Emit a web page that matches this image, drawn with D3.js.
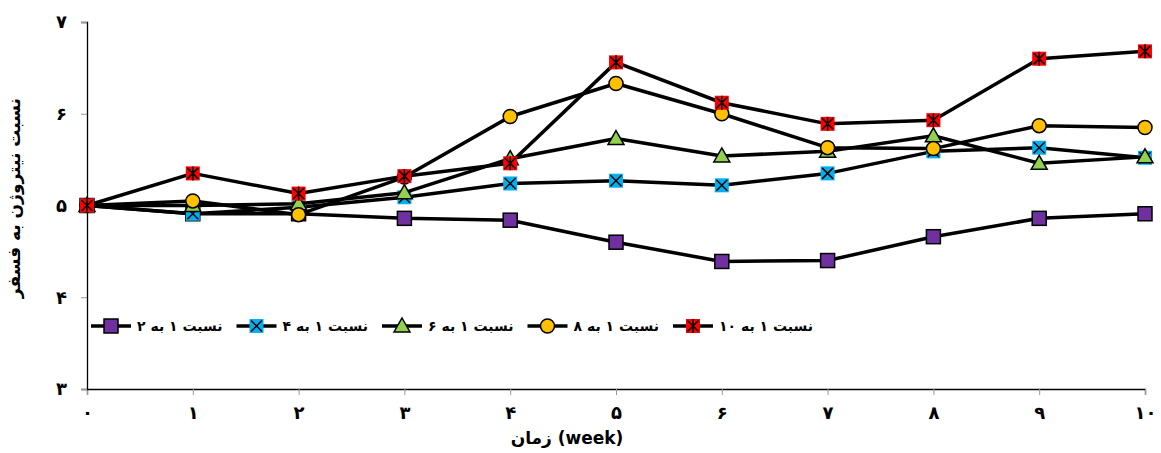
<!DOCTYPE html>
<html>
<head>
<meta charset="utf-8">
<script src="https://cdn.jsdelivr.net/npm/d3@7"></script>
<style>
body { margin: 0; background: #fff; }
text { font-family: "DejaVu Sans", sans-serif; font-weight: bold; }
</style>
</head>
<body>
<div id="chart"></div>
<script>
// weeks 0..10
var weeks = [0, 1, 2, 3, 4, 5, 6, 7, 8, 9, 10];
var faDigits = ["۰", "۱", "۲", "۳", "۴", "۵", "۶", "۷", "۸", "۹", "۱۰"];
var yTicks = [3, 4, 5, 6, 7];

var seriesNames = ["نسبت ۱ به ۲", "نسبت ۱ به ۴", "نسبت ۱ به ۶", "نسبت ۱ به ۸", "نسبت ۱ به ۱۰"];
var ratio2  = [5.00, 4.91, 4.91, 4.86, 4.84, 4.60, 4.39, 4.40, 4.66, 4.86, 4.91];
var ratio4  = [5.00, 4.91, 4.98, 5.09, 5.24, 5.27, 5.22, 5.35, 5.59, 5.63, 5.52];
var ratio6  = [5.00, 5.00, 5.02, 5.14, 5.51, 5.73, 5.54, 5.59, 5.76, 5.46, 5.53];
var ratio8  = [5.00, 5.05, 4.90, 5.31, 5.97, 6.33, 6.00, 5.63, 5.62, 5.87, 5.85];
var ratio10 = [5.00, 5.35, 5.13, 5.32, 5.46, 6.56, 6.12, 5.89, 5.93, 6.60, 6.68];

var allSeries = [ratio2, ratio4, ratio6, ratio8, ratio10];
var colors = ["#7030A0", "#00B0F0", "#92D050", "#FFC000", "#FF0000"];
var shapes = ["square", "x", "triangle", "circle", "star"];

var W = 1161, H = 453;
var margin = {top: 22, right: 16, bottom: 64, left: 87};

var svg = d3.select("#chart").append("svg")
    .attr("width", W).attr("height", H);

var x = d3.scaleLinear().domain([0, 10]).range([margin.left, W - margin.right]);
var y = d3.scaleLinear().domain([3, 7]).range([H - margin.bottom, margin.top]);

// axes
var xAxis = svg.append("g")
    .attr("transform", "translate(0," + y(3) + ")")
    .call(d3.axisBottom(x).tickValues(weeks).tickSize(6).tickFormat(function(d, i) { return faDigits[i]; }));
var yAxis = svg.append("g")
    .attr("transform", "translate(" + x(0) + ",0)")
    .call(d3.axisLeft(y).tickValues(yTicks).tickSize(6).tickFormat(function(d) { return faDigits[d]; }));

[xAxis, yAxis].forEach(function(g) {
    g.select(".domain").attr("stroke", "#000").attr("stroke-width", 1.3);
    g.selectAll(".tick line").attr("stroke", "#999");
    g.selectAll(".tick text").attr("fill", "#000").style("font-size", "18px");
});
xAxis.selectAll(".tick text").attr("dy", "1.15em");
yAxis.selectAll(".tick text").attr("x", -20);

// axis titles
svg.append("text")
    .attr("x", 567).attr("y", 444)
    .attr("text-anchor", "middle")
    .style("font-size", "17px")
    .text("زمان (week)");

svg.append("text")
    .attr("transform", "translate(20," + y(5.08) + ") rotate(-90)")
    .attr("text-anchor", "middle")
    .style("font-size", "17px")
    .text("نسبت نیتروژن به فسفر");

var line = d3.line()
    .x(function(d, i) { return x(weeks[i]); })
    .y(function(d) { return y(d); });

function drawMarker(g, shape, color, cx, cy) {
    var s = 7;
    if (shape == "square" || shape == "x" || shape == "star") {
        g.append("rect")
            .attr("x", cx - s).attr("y", cy - s)
            .attr("width", 2 * s).attr("height", 2 * s)
            .attr("fill", color)
            .attr("stroke", shape == "square" ? "#000" : "none")
            .attr("stroke-width", 1.5);
        if (shape != "square") {
            var k = 5.5;
            var p = "M" + (cx - k) + "," + (cy - k) + "L" + (cx + k) + "," + (cy + k) +
                    "M" + (cx + k) + "," + (cy - k) + "L" + (cx - k) + "," + (cy + k);
            if (shape == "star") p += "M" + cx + "," + (cy - s) + "L" + cx + "," + (cy + s);
            g.append("path").attr("d", p).attr("stroke", "#000").attr("stroke-width", 1.5).attr("fill", "none");
        }
    } else if (shape == "triangle") {
        g.append("path")
            .attr("d", "M" + cx + "," + (cy - 8) + "L" + (cx + 8) + "," + (cy + 6) + "L" + (cx - 8) + "," + (cy + 6) + "Z")
            .attr("fill", color).attr("stroke", "#000").attr("stroke-width", 1.5);
    } else {
        g.append("circle")
            .attr("cx", cx).attr("cy", cy).attr("r", 7)
            .attr("fill", color).attr("stroke", "#000").attr("stroke-width", 1.5);
    }
}

// series
allSeries.forEach(function(vals, si) {
    var g = svg.append("g");
    g.append("path")
        .attr("d", line(vals))
        .attr("fill", "none")
        .attr("stroke", "#000")
        .attr("stroke-width", 3.5)
        .attr("stroke-linejoin", "round");
    vals.forEach(function(v, i) {
        drawMarker(g, shapes[si], colors[si], x(weeks[i]), y(v));
    });
});

// legend
var legendY = 326;
seriesNames.forEach(function(name, si) {
    var mx = 111 + si * 145.5;
    var g = svg.append("g");
    g.append("line")
        .attr("x1", mx - 20).attr("x2", mx + 20)
        .attr("y1", legendY).attr("y2", legendY)
        .attr("stroke", "#000").attr("stroke-width", 3.5);
    drawMarker(g, shapes[si], colors[si], mx, legendY);
    g.append("text")
        .attr("x", mx + 26).attr("y", legendY + 5)
        .style("font-size", "14px")
        .text(name);
});
</script>
</body>
</html>
